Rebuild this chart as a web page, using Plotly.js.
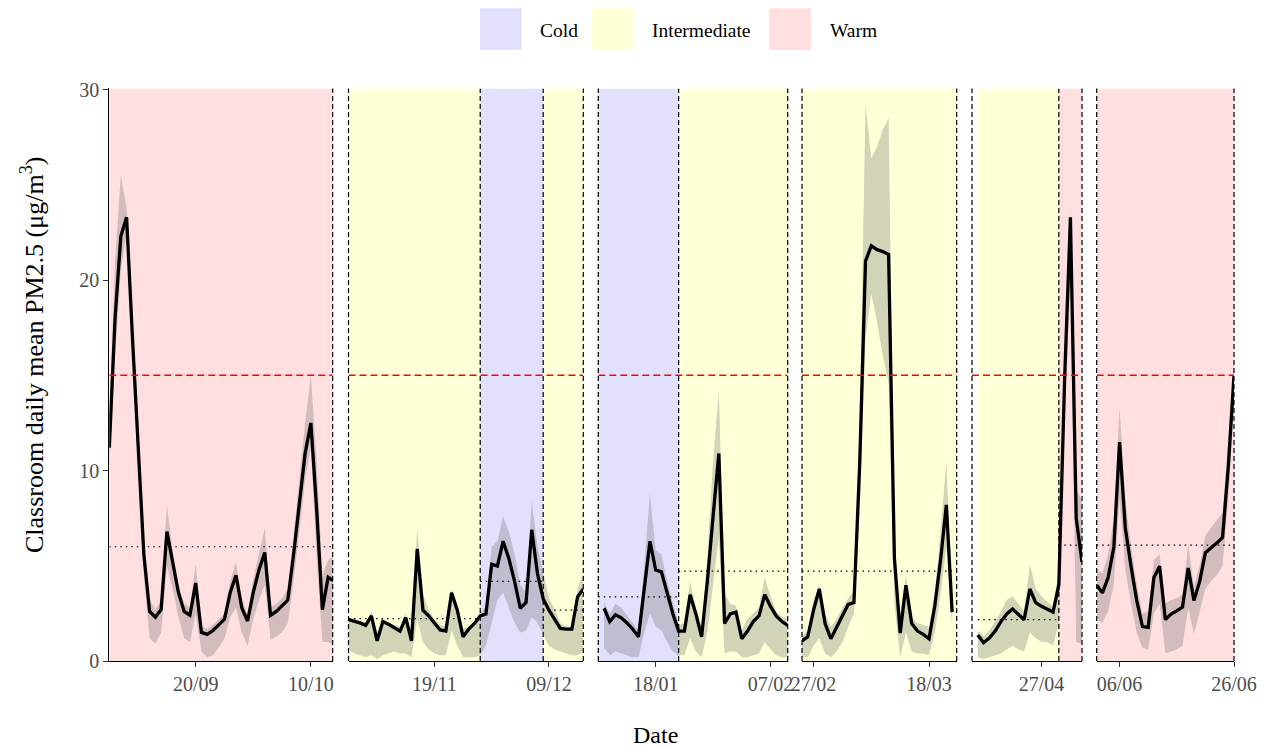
<!DOCTYPE html>
<html><head><meta charset="utf-8">
<script src="https://cdn.plot.ly/plotly-3.0.1.min.js"></script>
<style>html,body{margin:0;padding:0;background:#fff}#chart{width:1267px;height:747px}</style>
</head><body><div id="chart"></div>
<script>
// ---------------- DATA ----------------
const seasonTypes  = ['Cold', 'Intermediate', 'Warm'];
const seasonColors = ['#E1E1FD', '#FFFFD8', '#FFDFE0'];
const whoLimit = 15;

// Panel 1 (daily from 05/09/2023)
const p1Start = '2023-09-05';
const p1Mean = [11.2,18.0,22.3,23.3,17.1,11.4,5.6,2.6,2.3,2.7,6.8,5.2,3.6,2.6,2.4,4.1,1.5,1.4,1.6,1.9,2.2,3.6,4.5,2.8,2.1,3.6,4.8,5.7,2.4,2.6,2.9,3.2,5.6,8.2,10.9,12.5,8.0,2.7,4.4,4.2];
const p1Low  = [10.0,16.0,20.5,22.5,16.0,10.5,4.5,1.2,0.9,1.5,5.0,3.8,2.3,1.2,1.0,2.5,0.5,0.2,0.3,0.7,1.2,2.3,2.8,1.5,0.8,2.2,3.2,4.0,1.1,1.3,1.5,2.0,4.2,6.8,9.5,11.2,5.5,1.0,1.0,0.8];
const p1High = [12.5,21.0,25.5,23.8,18.5,12.5,6.5,3.2,2.7,3.2,8.2,5.8,4.0,3.0,2.8,5.1,1.8,1.7,1.9,2.2,2.5,4.2,5.2,3.3,2.4,4.3,5.6,7.0,2.8,3.0,3.3,3.8,6.6,9.5,12.5,15.0,10.5,4.5,5.3,5.5];
const p1Ticks = ['2023-09-20','2023-10-10'];
const p1Labels = ['20/09','10/10'];

// Panel 2 (daily from 04/11/2023)
const p2Start = '2023-11-04';
const p2Mean = [2.17,2.1,2.0,1.87,2.37,1.06,2.07,1.93,1.77,1.57,2.27,1.06,5.89,2.67,2.37,1.97,1.63,1.57,3.58,2.67,1.27,1.67,1.97,2.37,2.47,5.08,4.98,6.29,5.38,4.18,2.77,3.07,6.89,4.58,3.27,2.67,2.17,1.71,1.67,1.67,3.37,3.78];
const p2Low  = [0.6,0.4,0.3,0.2,0.3,0.1,0.3,0.4,0.5,0.4,0.4,0.2,2.2,1.0,0.6,0.4,0.3,0.3,1.6,0.8,0.2,0.2,0.2,0.3,0.8,2.0,3.2,3.6,2.8,2.0,1.5,1.6,2.3,2.0,1.4,0.8,0.6,0.5,0.4,0.3,0.3,0.5];
const p2High = [2.3,2.2,2.1,2.0,2.6,1.5,2.2,2.0,1.9,1.8,2.5,1.3,7.0,3.5,2.7,2.2,1.9,1.8,3.8,2.9,1.7,1.8,2.1,2.5,2.9,6.0,6.3,7.6,6.8,5.6,4.0,3.6,8.4,6.0,4.6,3.3,2.7,2.0,1.8,1.8,3.8,4.6];
const p2Ticks = ['2023-11-19','2023-12-09'];
const p2Labels = ['19/11','09/12'];

// Panel 3 (daily from 09/01/2024)
const p3Start = '2024-01-09';
const p3Mean = [2.77,2.07,2.43,2.27,2.0,1.67,1.27,3.78,6.29,4.78,4.68,3.58,2.47,1.57,1.57,3.48,2.47,1.27,4.18,7.6,10.9,1.97,2.47,2.57,1.17,1.57,2.07,2.37,3.48,2.87,2.37,2.07,1.87];
const p3Low  = [0.7,0.3,0.5,0.4,0.3,0.2,0.2,1.5,2.5,1.8,1.6,1.0,0.5,0.3,0.3,1.2,0.5,0.2,1.5,4.0,6.5,0.4,0.5,0.5,0.2,0.2,0.3,0.4,1.0,0.6,0.3,0.2,0.2];
const p3High = [3.1,2.5,3.0,2.8,2.4,2.0,1.6,5.0,8.8,5.8,5.6,4.2,3.0,1.9,2.0,4.2,2.8,1.8,5.5,10.5,14.2,3.5,3.0,2.9,1.6,2.2,2.5,2.8,4.4,3.4,2.6,2.3,2.2];
const p3Ticks = ['2024-01-18','2024-02-07'];
const p3Labels = ['18/01','07/02'];

// Panel 4 (daily from 25/02/2024)
const p4Start = '2024-02-25';
const p4Mean = [1.06,1.27,2.67,3.78,1.97,1.17,1.77,2.37,2.97,3.07,10.4,21.0,21.8,21.6,21.5,21.35,5.4,1.47,3.98,1.97,1.57,1.4,1.17,2.9,5.3,8.2,2.57];
const p4Low  = [0.2,0.2,0.8,1.2,0.4,0.2,0.5,1.0,1.8,2.5,8.0,17.0,19.3,17.8,16.0,14.6,3.0,0.2,1.5,0.5,0.4,0.4,0.3,1.5,3.5,6.0,1.8];
const p4High = [1.3,1.6,3.2,4.0,2.5,1.8,2.2,2.8,3.3,3.7,12.5,29.2,26.4,27.0,27.9,28.5,6.5,2.5,4.5,2.3,2.0,1.9,1.8,3.6,6.8,10.5,3.0];
const p4Ticks = ['2024-02-27','2024-03-18'];
const p4Labels = ['27/02','18/03'];

// Panel 5 (daily from 16/04/2024)
const p5Start = '2024-04-16';
const p5Mean = [1.37,0.96,1.2,1.57,2.07,2.47,2.73,2.47,2.17,3.78,3.07,2.87,2.71,2.57,4.0,14.8,23.3,7.5,5.2];
const p5Low  = [0.2,0.1,0.2,0.3,0.4,0.6,0.8,0.6,0.5,1.5,1.2,1.0,1.0,0.8,2.0,13.0,20.0,1.0,0.9];
const p5High = [1.6,1.3,1.6,2.1,2.6,3.2,3.4,3.0,2.6,5.1,3.8,3.4,3.1,2.9,4.8,16.5,23.6,9.0,8.4];
const p5Ticks = ['2024-04-27'];
const p5Labels = ['27/04'];

// Panel 6 (daily from 02/06/2024)
const p6Start = '2024-06-02';
const p6Mean = [3.98,3.58,4.38,5.99,11.5,6.99,4.98,3.17,1.81,1.77,4.38,4.98,2.17,2.47,2.63,2.83,4.88,3.17,4.18,5.69,5.95,6.19,6.49,10.2,15.0];
const p6Low  = [2.2,2.0,2.6,4.0,8.5,4.8,3.0,1.5,0.7,0.6,2.5,3.0,0.4,0.5,0.6,0.8,2.8,1.4,2.6,3.8,4.2,4.5,5.0,8.5,13.5];
const p6High = [4.8,4.6,5.6,7.5,13.3,8.5,6.0,4.0,2.5,2.6,5.3,5.6,3.0,3.2,3.3,3.5,6.1,3.9,5.0,6.6,7.0,7.4,7.8,11.5,16.0];
const p6Ticks = ['2024-06-06','2024-06-26'];
const p6Labels = ['06/06','26/06'];

// Periods (panel index, start, end, season, period mean)
const periodPanel = [1, 2, 2, 2, 3, 3, 4, 5, 5, 6];
const periodStart = ['2023-09-05','2023-11-04','2023-11-27','2023-12-08','2024-01-08','2024-01-22','2024-02-25','2024-04-16','2024-04-30','2024-06-02'];
const periodEnd   = ['2023-10-14','2023-11-27','2023-12-08','2023-12-15','2024-01-22','2024-02-10','2024-03-23','2024-04-30','2024-05-04','2024-06-26'];
const periodType  = ['Warm','Intermediate','Cold','Intermediate','Cold','Intermediate','Intermediate','Intermediate','Warm','Warm'];
const periodMean  = [6.0, 2.23, 4.18, 2.67, 3.37, 4.72, 4.72, 2.17, 6.09, 6.09];

// ---------------- LAYOUT ----------------
const W = 1267, H = 747;
const FONT = '"Liberation Serif","Times New Roman",Times,serif';
const YTOP = 30.07;
const yDom = [(H - 661) / H, (H - 88.4) / H];

const panels = [
  {start:p1Start, mean:p1Mean, low:p1Low, high:p1High, ticks:p1Ticks, labels:p1Labels, range:['2023-09-05','2023-10-13 19:00'], px:[109.3,332.7]},
  {start:p2Start, mean:p2Mean, low:p2Low, high:p2High, ticks:p2Ticks, labels:p2Labels, range:['2023-11-04','2023-12-15'], px:[348.5,583.3]},
  {start:p3Start, mean:p3Mean, low:p3Low, high:p3High, ticks:p3Ticks, labels:p3Labels, range:['2024-01-08','2024-02-10'], px:[598.3,787.7]},
  {start:p4Start, mean:p4Mean, low:p4Low, high:p4High, ticks:p4Ticks, labels:p4Labels, range:['2024-02-25','2024-03-22 19:00'], px:[802,956.7]},
  {start:p5Start, mean:p5Mean, low:p5Low, high:p5High, ticks:p5Ticks, labels:p5Labels, range:['2024-04-15','2024-05-04'], px:[972,1082]},
  {start:p6Start, mean:p6Mean, low:p6Low, high:p6High, ticks:p6Ticks, labels:p6Labels, range:['2024-06-02','2024-06-26'], px:[1096.7,1234]}
];

function dailyDates(start, n) {
  const out = [], t0 = Date.parse(start + 'T00:00:00Z');
  for (let i = 0; i < n; i++) out.push(new Date(t0 + i * 86400000).toISOString().slice(0, 10));
  return out;
}
const axName = i => (i === 0 ? 'x' : 'x' + (i + 1));
const axKey  = i => (i === 0 ? 'xaxis' : 'xaxis' + (i + 1));
const colorOf = t => seasonColors[seasonTypes.indexOf(t)];

const traces = [];
const layout = {
  width: W, height: H,
  margin: {l: 0, r: 0, t: 0, b: 0},
  paper_bgcolor: '#ffffff', plot_bgcolor: 'rgba(0,0,0,0)',
  showlegend: false,
  font: {family: FONT, color: '#000'},
  shapes: [], annotations: [],
  yaxis: {
    domain: yDom, range: [0, YTOP], anchor: 'x', fixedrange: true,
    tickvals: [0, 10, 20, 30], ticks: 'outside', ticklen: 5, tickwidth: 1, tickcolor: '#333333',
    showline: true, linecolor: '#000', linewidth: 1, showgrid: false, zeroline: false,
    tickfont: {family: FONT, size: 20, color: '#4D4D4D'}
  }
};

panels.forEach((p, i) => {
  const xa = axName(i);
  const dates = dailyDates(p.start, p.mean.length);
  layout[axKey(i)] = {
    type: 'date', domain: [p.px[0] / W, p.px[1] / W], range: p.range, anchor: 'y', fixedrange: true,
    tickvals: p.ticks, ticktext: p.labels, ticks: 'outside', ticklen: 5, tickwidth: 1, tickcolor: '#333333',
    showline: true, linecolor: '#000', linewidth: 1, showgrid: false, zeroline: false,
    tickfont: {family: FONT, size: 20, color: '#4D4D4D'}
  };
  traces.push({x: dates, y: p.low, xaxis: xa, yaxis: 'y', type: 'scatter', mode: 'lines',
               line: {width: 0, color: 'rgba(0,0,0,0)'}, hoverinfo: 'skip'});
  traces.push({x: dates, y: p.high, xaxis: xa, yaxis: 'y', type: 'scatter', mode: 'lines', fill: 'tonexty',
               fillcolor: 'rgba(110,110,110,0.30)', line: {width: 0, color: 'rgba(0,0,0,0)'}, hoverinfo: 'skip'});
  traces.push({x: dates, y: p.mean, xaxis: xa, yaxis: 'y', type: 'scatter', mode: 'lines',
               line: {width: 3.3, color: '#000'}});
});

// Season backgrounds
periodType.forEach((t, k) => {
  layout.shapes.push({type: 'rect', layer: 'below', xref: axName(periodPanel[k] - 1), yref: 'y',
    x0: periodStart[k], x1: periodEnd[k], y0: 0, y1: YTOP, fillcolor: colorOf(t), line: {width: 0}});
});
// Period means (dotted)
periodMean.forEach((m, k) => {
  layout.shapes.push({type: 'line', layer: 'above', xref: axName(periodPanel[k] - 1), yref: 'y',
    x0: periodStart[k], x1: periodEnd[k], y0: m, y1: m, line: {color: '#000', width: 1.2, dash: '1.5px,4px'}});
});
// WHO limit
panels.forEach((p, i) => {
  layout.shapes.push({type: 'line', layer: 'above', xref: axName(i), yref: 'y',
    x0: p.range[0], x1: p.range[1], y0: whoLimit, y1: whoLimit, line: {color: '#FF0000', width: 1.5, dash: '7px,4px'}});
});
// Internal period boundaries
periodStart.forEach((s, k) => {
  if (k > 0 && periodPanel[k] === periodPanel[k - 1]) {
    layout.shapes.push({type: 'line', layer: 'above', xref: axName(periodPanel[k] - 1), yref: 'y',
      x0: s, x1: s, y0: 0, y1: YTOP, line: {color: '#000', width: 1.2, dash: '5px,3px'}});
  }
});
// Panel edges
panels.forEach((p, i) => {
  const sides = i === 0 ? [1] : [0, 1];
  sides.forEach(sx => {
    layout.shapes.push({type: 'line', layer: 'above', xref: axName(i) + ' domain', yref: 'y domain',
      x0: sx, x1: sx, y0: 0, y1: 1, line: {color: '#000', width: 1.2, dash: '5px,3px'}});
  });
});

// Legend (manual)
const legSwatchX = [480, 591.7, 769.3];
const legTextX = [538.3, 650, 828.3];
seasonTypes.forEach((t, k) => {
  layout.shapes.push({type: 'rect', xref: 'paper', yref: 'paper',
    x0: legSwatchX[k] / W, x1: (legSwatchX[k] + 41.7) / W, y0: 1 - 50 / H, y1: 1 - 8.3 / H,
    fillcolor: seasonColors[k], line: {width: 0}});
  layout.annotations.push({xref: 'paper', yref: 'paper', x: legTextX[k] / W, y: 1 - 31 / H,
    xanchor: 'left', yanchor: 'middle', showarrow: false, text: t,
    font: {family: FONT, size: 19.5, color: '#000'}});
});

// Axis titles
layout.annotations.push({xref: 'paper', yref: 'paper', x: 656 / W, y: 1 - 735 / H,
  xanchor: 'center', yanchor: 'middle', showarrow: false, text: 'Date',
  font: {family: FONT, size: 24, color: '#000'}});
layout.annotations.push({xref: 'paper', yref: 'paper', x: 32 / W, y: 1 - 355 / H,
  xanchor: 'center', yanchor: 'middle', showarrow: false, textangle: -90,
  text: 'Classroom daily mean PM2.5 (μg/m<sup>3</sup>)',
  font: {family: FONT, size: 26, color: '#000'}});

Plotly.newPlot('chart', traces, layout, {displayModeBar: false, staticPlot: true});
</script>
</body></html>
